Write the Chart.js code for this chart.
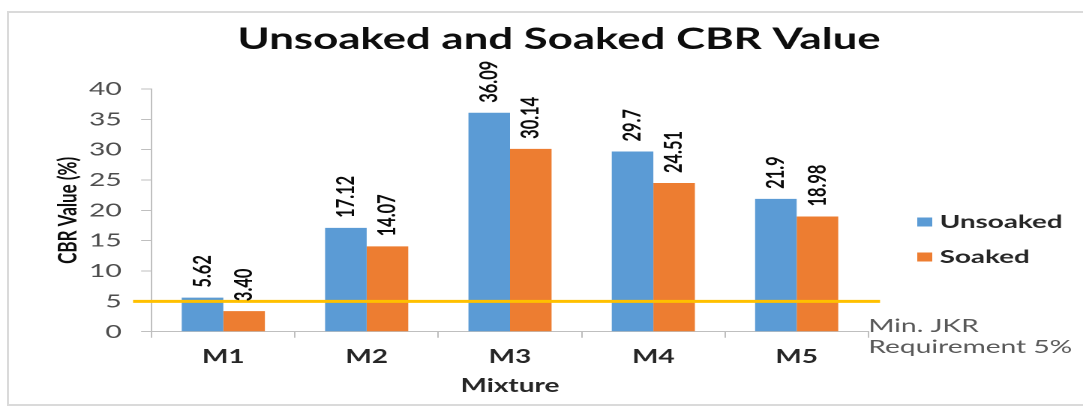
<!DOCTYPE html>
<html><head><meta charset="utf-8">
<script src="https://cdn.jsdelivr.net/npm/chart.js@4.4.1/dist/chart.umd.min.js"></script>
<style>
html,body{margin:0;padding:0;background:#fff;overflow:hidden;width:1083px;height:410px;}
#frame{position:absolute;left:7px;top:11px;width:1100px;height:395px;border:2px solid #dadada;box-sizing:border-box;}
#wrap{position:absolute;left:0;top:0;width:722px;height:410px;transform:scaleX(1.5);transform-origin:0 0;}
</style></head><body>
<div id="frame"></div>
<div id="wrap"><canvas id="c"></canvas></div>
<script>
// ---- data ----
const categories = ["M1", "M2", "M3", "M4", "M5"];
const unsoaked = [5.62, 17.12, 36.09, 29.7, 21.9];
const soaked = [3.40, 14.07, 30.14, 24.51, 18.98];
const yTicks = [0, 5, 10, 15, 20, 25, 30, 35, 40];
const threshold = 5;
const seriesNames = ["Unsoaked", "Soaked"];
const titleText = "Unsoaked and Soaked CBR Value";
const noteLines = ["Min. JKR", "Requirement 5%"];
const xTitle = "Mixture";
const yTitle = "CBR Value (%)";

// ---- font sizing (fit Lato to the reference text widths) ----
const FAM = 'Lato, "Open Sans", sans-serif';
const mctx = document.createElement('canvas').getContext('2d');
function fit(text, weight, target) {
  mctx.font = weight + ' 100px ' + FAM;
  return 100 * target / mctx.measureText(text).width;
}
const titleSize = fit(titleText, 'bold', 429);
const noteSize = fit('Requirement 5%', 'normal', 136);
const legendSize = fit('Unsoaked', 'bold', 82);
const axisTitleSize = fit('Mixture', 'bold', 66);
const yTitleSize = fit(yTitle, 'bold', 107);
const labelSize = fit('24.51', 'bold', 42);
const tickSize = noteSize;
const catSize = axisTitleSize;

const COLORS = ['#5B9BD5', '#ED7D31'];
const formats = [v => String(v), v => v.toFixed(2)];

const overlay = {
  id: 'overlay',
  afterDatasetsDraw(chart) {
    const ctx = chart.ctx;
    const ys = chart.scales.y;
    const area = chart.chartArea;
    // threshold line
    const ty = ys.getPixelForValue(threshold);
    ctx.save();
    ctx.strokeStyle = '#FFC000';
    ctx.lineWidth = 3;
    ctx.beginPath();
    ctx.moveTo(area.left - 12.4, ty);
    ctx.lineTo(area.right + 7.8, ty);
    ctx.stroke();
    ctx.restore();
    // data labels
    chart.data.datasets.forEach((ds, di) => {
      const meta = chart.getDatasetMeta(di);
      meta.data.forEach((bar, i) => {
        ctx.save();
        ctx.translate(bar.x, bar.y - 10);
        ctx.rotate(-Math.PI / 2);
        ctx.font = 'bold ' + labelSize + 'px ' + FAM;
        ctx.fillStyle = '#0a0a0a';
        ctx.textAlign = 'left';
        ctx.textBaseline = 'middle';
        ctx.fillText(formats[di](ds.data[i]), 0, 0);
        ctx.restore();
      });
    });
  },
  afterDraw(chart) {
    const ctx = chart.ctx;
    const area = chart.chartArea;
    ctx.save();
    // title
    ctx.font = 'bold ' + titleSize + 'px ' + FAM;
    ctx.fillStyle = '#0d0d0d';
    ctx.textAlign = 'center';
    ctx.textBaseline = 'alphabetic';
    ctx.fillText(titleText, 372.7, 49);
    // legend
    const rows = [222, 257];
    ctx.font = 'bold ' + legendSize + 'px ' + FAM;
    ctx.textAlign = 'left';
    ctx.textBaseline = 'middle';
    seriesNames.forEach((n, i) => {
      ctx.fillStyle = COLORS[i];
      ctx.fillRect(611.5, rows[i] - 4.5, 10, 9);
      ctx.fillStyle = '#262626';
      ctx.fillText(n, 626.5, rows[i]);
    });
    // note
    ctx.font = noteSize + 'px ' + FAM;
    ctx.fillStyle = '#595959';
    ctx.textBaseline = 'alphabetic';
    ctx.fillText(noteLines[0], area.right, 332);
    ctx.fillText(noteLines[1], area.right, 353);
    ctx.restore();
  }
};

new Chart(document.getElementById('c'), {
  type: 'bar',
  data: {
    labels: categories,
    datasets: [
      { label: seriesNames[0], data: unsoaked, backgroundColor: COLORS[0], categoryPercentage: 0.58, barPercentage: 1 },
      { label: seriesNames[1], data: soaked, backgroundColor: COLORS[1], categoryPercentage: 0.58, barPercentage: 1 }
    ]
  },
  options: {
    responsive: true,
    maintainAspectRatio: false,
    animation: false,
    devicePixelRatio: 2,
    layout: { padding: { top: 89, right: 143.1, bottom: 0, left: 0 } },
    plugins: { legend: { display: false }, title: { display: false }, tooltip: { enabled: false } },
    scales: {
      x: {
        grid: { display: true, drawOnChartArea: false, drawTicks: true, tickLength: 6, color: '#bfbfbf', offset: true },
        border: { color: '#bfbfbf', width: 1 },
        ticks: { font: { family: FAM, weight: 'bold', size: catSize }, color: '#262626', padding: 8 },
        title: { display: true, text: xTitle, font: { family: FAM, weight: 'bold', size: axisTitleSize }, color: '#262626', padding: { top: 0, bottom: 13 } },
        afterFit: s => { s.height = 78.3; }
      },
      y: {
        min: yTicks[0], max: yTicks[yTicks.length - 1],
        afterBuildTicks: s => { s.ticks = yTicks.map(v => ({ value: v })); },
        ticks: { font: { family: FAM, size: tickSize }, color: '#4d4d4d', padding: 13 },
        grid: { display: true, drawOnChartArea: false, tickLength: 7, color: '#bfbfbf' },
        border: { color: '#bfbfbf', width: 1 },
        title: { display: true, text: yTitle, font: { family: FAM, weight: 'bold', size: yTitleSize }, color: '#0d0d0d', padding: { top: 45.3 - yTitleSize * 0.6, bottom: 0 } },
        afterFit: s => { s.width = 101.1; }
      }
    }
  },
  plugins: [overlay]
});
</script>
</body></html>
